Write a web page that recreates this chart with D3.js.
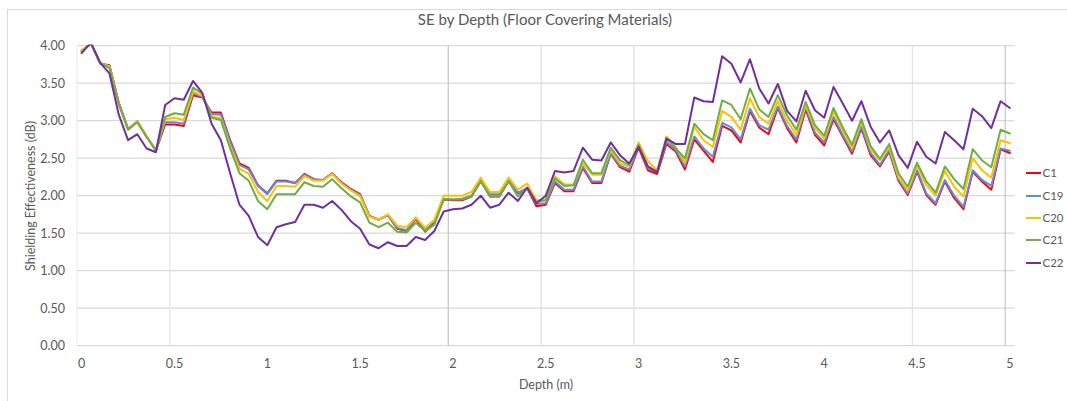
<!DOCTYPE html>
<html>
<head>
<meta charset="utf-8">
<script src="https://cdn.jsdelivr.net/npm/d3@7"></script>
<style>
  body { margin: 0; background: #fff; }
  svg { display: block; }
  text { font-family: Lato, "Open Sans", sans-serif; fill: #595959; }
</style>
</head>
<body>
<svg id="chart" width="1067" height="401"></svg>
<script>
// Depth categories (m), 5 cm steps
const depth = [
  0, 0.05, 0.1, 0.15, 0.2, 0.25, 0.3, 0.35, 0.4, 0.45,
  0.5, 0.55, 0.6, 0.65, 0.7, 0.75, 0.8, 0.85, 0.9, 0.95,
  1, 1.05, 1.1, 1.15, 1.2, 1.25, 1.3, 1.35, 1.4, 1.45,
  1.5, 1.55, 1.6, 1.65, 1.7, 1.75, 1.8, 1.85, 1.9, 1.95,
  2, 2.05, 2.1, 2.15, 2.2, 2.25, 2.3, 2.35, 2.4, 2.45,
  2.5, 2.55, 2.6, 2.65, 2.7, 2.75, 2.8, 2.85, 2.9, 2.95,
  3, 3.05, 3.1, 3.15, 3.2, 3.25, 3.3, 3.35, 3.4, 3.45,
  3.5, 3.55, 3.6, 3.65, 3.7, 3.75, 3.8, 3.85, 3.9, 3.95,
  4, 4.05, 4.1, 4.15, 4.2, 4.25, 4.3, 4.35, 4.4, 4.45,
  4.5, 4.55, 4.6, 4.65, 4.7, 4.75, 4.8, 4.85, 4.9, 4.95,
  5
];

// Shielding effectiveness (dB) per floor covering material
const c1 = [
  3.93, 4.03, 3.76, 3.74, 3.24, 2.89, 2.99, 2.79, 2.60, 2.95,
  2.95, 2.93, 3.34, 3.31, 3.11, 3.11, 2.74, 2.43, 2.37, 2.14,
  2.03, 2.20, 2.20, 2.17, 2.29, 2.22, 2.21, 2.30, 2.18, 2.09,
  2.02, 1.73, 1.68, 1.74, 1.56, 1.53, 1.69, 1.52, 1.65, 1.95,
  1.94, 1.94, 1.99, 2.20, 1.99, 1.99, 2.20, 2.03, 2.10, 1.86,
  1.88, 2.17, 2.06, 2.06, 2.37, 2.17, 2.17, 2.56, 2.38, 2.32,
  2.64, 2.34, 2.29, 2.69, 2.59, 2.35, 2.75, 2.60, 2.45, 2.93,
  2.87, 2.71, 3.13, 2.91, 2.82, 3.17, 2.90, 2.71, 3.15, 2.81,
  2.67, 3.02, 2.79, 2.56, 2.90, 2.54, 2.39, 2.59, 2.20, 2.01,
  2.32, 2.01, 1.88, 2.19, 1.97, 1.82, 2.32, 2.19, 2.08, 2.62,
  2.57
];
const c19 = [
  3.93, 4.03, 3.77, 3.73, 3.23, 2.89, 2.99, 2.79, 2.60, 2.98,
  2.98, 2.96, 3.37, 3.32, 3.09, 3.08, 2.72, 2.41, 2.35, 2.13,
  2.02, 2.19, 2.19, 2.17, 2.28, 2.21, 2.21, 2.30, 2.17, 2.08,
  2.01, 1.73, 1.68, 1.74, 1.57, 1.54, 1.70, 1.55, 1.66, 1.96,
  1.95, 1.96, 2.00, 2.20, 2.02, 2.02, 2.20, 2.04, 2.10, 1.89,
  1.90, 2.19, 2.08, 2.08, 2.39, 2.19, 2.19, 2.57, 2.40, 2.35,
  2.66, 2.37, 2.31, 2.72, 2.61, 2.39, 2.79, 2.63, 2.52, 2.97,
  2.91, 2.75, 3.16, 2.94, 2.88, 3.19, 2.93, 2.75, 3.18, 2.84,
  2.71, 3.05, 2.81, 2.59, 2.92, 2.57, 2.41, 2.61, 2.22, 2.03,
  2.34, 2.03, 1.90, 2.21, 2.00, 1.85, 2.34, 2.21, 2.13, 2.63,
  2.60
];
const c20 = [
  3.94, 4.03, 3.77, 3.72, 3.22, 2.88, 2.99, 2.79, 2.61, 3.02,
  3.04, 3.01, 3.39, 3.33, 3.06, 3.03, 2.66, 2.36, 2.29, 2.05,
  1.93, 2.13, 2.13, 2.12, 2.26, 2.20, 2.20, 2.29, 2.16, 2.07,
  1.99, 1.72, 1.68, 1.75, 1.60, 1.58, 1.71, 1.57, 1.68, 2.00,
  2.00, 2.00, 2.05, 2.24, 2.05, 2.05, 2.24, 2.08, 2.16, 1.94,
  1.95, 2.26, 2.15, 2.15, 2.43, 2.28, 2.28, 2.61, 2.43, 2.39,
  2.71, 2.46, 2.34, 2.79, 2.65, 2.44, 2.92, 2.74, 2.65, 3.13,
  3.05, 2.88, 3.30, 3.05, 2.96, 3.26, 3.00, 2.81, 3.21, 2.90,
  2.76, 3.12, 2.87, 2.63, 2.99, 2.62, 2.47, 2.65, 2.25, 2.07,
  2.40, 2.14, 2.00, 2.33, 2.12, 1.99, 2.50, 2.34, 2.24, 2.74,
  2.70
];
const c21 = [
  3.92, 4.03, 3.77, 3.70, 3.22, 2.88, 2.98, 2.78, 2.61, 3.05,
  3.10, 3.08, 3.44, 3.36, 3.04, 3.01, 2.63, 2.30, 2.20, 1.93,
  1.82, 2.02, 2.02, 2.02, 2.18, 2.13, 2.12, 2.22, 2.10, 1.99,
  1.91, 1.64, 1.58, 1.64, 1.52, 1.51, 1.64, 1.53, 1.61, 1.95,
  1.95, 1.95, 1.99, 2.19, 1.99, 1.99, 2.19, 1.99, 2.10, 1.92,
  1.94, 2.23, 2.13, 2.14, 2.48, 2.30, 2.30, 2.64, 2.47, 2.41,
  2.68, 2.39, 2.32, 2.77, 2.63, 2.50, 2.96, 2.82, 2.74, 3.27,
  3.21, 3.02, 3.43, 3.15, 3.05, 3.34, 3.07, 2.88, 3.25, 2.94,
  2.80, 3.17, 2.91, 2.68, 3.02, 2.66, 2.49, 2.69, 2.30, 2.12,
  2.44, 2.19, 2.04, 2.39, 2.22, 2.09, 2.62, 2.47, 2.38, 2.88,
  2.83
];
const c22 = [
  3.90, 4.04, 3.77, 3.63, 3.08, 2.74, 2.82, 2.63, 2.58, 3.21,
  3.30, 3.28, 3.53, 3.37, 2.96, 2.74, 2.30, 1.88, 1.73, 1.45,
  1.34, 1.58, 1.62, 1.65, 1.88, 1.88, 1.84, 1.93, 1.81, 1.66,
  1.56, 1.35, 1.30, 1.38, 1.33, 1.33, 1.45, 1.41, 1.53, 1.79,
  1.82, 1.83, 1.88, 2.00, 1.84, 1.88, 2.04, 1.93, 2.11, 1.90,
  2.00, 2.33, 2.31, 2.33, 2.64, 2.48, 2.47, 2.71, 2.54, 2.43,
  2.65, 2.39, 2.31, 2.76, 2.69, 2.69, 3.31, 3.26, 3.25, 3.86,
  3.76, 3.51, 3.82, 3.43, 3.23, 3.49, 3.13, 2.99, 3.40, 3.14,
  3.04, 3.45, 3.23, 3.00, 3.26, 2.92, 2.71, 2.87, 2.54, 2.37,
  2.72, 2.52, 2.43, 2.85, 2.74, 2.62, 3.16, 3.06, 2.90, 3.26,
  3.17
];

const seriesNames = ["C1", "C19", "C20", "C21", "C22"];
const seriesValues = [c1, c19, c20, c21, c22];
const seriesColors = ["#FF0000", "#5B8FDB", "#FFC000", "#70AD47", "#7030A0"];

// Axis ticks
const xTickValues = [0, 0.5, 1, 1.5, 2, 2.5, 3, 3.5, 4, 4.5, 5];
const xTickLabels = ["0", "0.5", "1", "1.5", "2", "2.5", "3", "3.5", "4", "4.5", "5"];
const yTickValues = [0, 0.5, 1, 1.5, 2, 2.5, 3, 3.5, 4];
// Vertical grid lines drawn at category boundaries, with their stroke colours
const vGridDepths = [0, 0.5, 2, 2.5, 3, 4.5, 5];
const vGridColors = ["#ececec", "#e2e2e2", "#c6c6c6", "#dedede", "#e0e0e0", "#e2e2e2", "#c6c6c6"];

const svg = d3.select("#chart");
const plot = { left: 77, right: 1014.5, top: 45.7, bottom: 345.7 };

// Outer chart border
svg.append("rect")
  .attr("x", 7.5).attr("y", 9.5)
  .attr("width", 1080).attr("height", 420)
  .attr("fill", "none").attr("stroke", "#d9d9d9").attr("stroke-width", 1);

const x = d3.scaleBand().domain(depth).range([plot.left, plot.right]).padding(0);
const xc = d => x(d) + x.bandwidth() / 2;
const y = d3.scaleLinear().domain([0, 4]).range([plot.bottom, plot.top]);

// Horizontal grid
svg.append("g").selectAll("line").data(yTickValues).join("line")
  .attr("x1", plot.left).attr("x2", plot.right)
  .attr("y1", d => y(d)).attr("y2", d => y(d))
  .attr("stroke", "#d9d9d9").attr("stroke-width", 1.2);

// Vertical grid
svg.append("g").selectAll("line").data(vGridDepths).join("line")
  .attr("x1", d => x(d)).attr("x2", d => x(d))
  .attr("y1", plot.top).attr("y2", plot.bottom)
  .attr("stroke", (d, i) => vGridColors[i]).attr("stroke-width", 1.2);

// X axis
const xAxis = d3.axisBottom(x)
  .tickValues(xTickValues)
  .tickFormat((d, i) => xTickLabels[i])
  .tickSize(0).tickPadding(13);
const gx = svg.append("g").attr("transform", `translate(0,${plot.bottom})`).call(xAxis);
gx.select(".domain").remove();
gx.selectAll("text").attr("font-size", 12.5).style("font-family", "Lato, sans-serif").attr("fill", "#595959");

// Y axis
const yAxis = d3.axisLeft(y)
  .tickValues(yTickValues)
  .tickFormat(d3.format(".2f"))
  .tickSize(0).tickPadding(12);
const gy = svg.append("g").attr("transform", `translate(${plot.left},0)`).call(yAxis);
gy.select(".domain").remove();
gy.selectAll("text").attr("font-size", 12.5).style("font-family", "Lato, sans-serif").attr("fill", "#595959");

// Series lines
svg.append("clipPath").attr("id", "plot-clip")
  .append("rect")
  .attr("x", plot.left).attr("y", plot.top - 1)
  .attr("width", plot.right - plot.left).attr("height", plot.bottom - plot.top + 1);

const line = d3.line().x((d, i) => xc(depth[i])).y(d => y(d));
svg.append("g").attr("clip-path", "url(#plot-clip)")
  .selectAll("path").data(seriesValues).join("path")
  .attr("d", d => line(d))
  .attr("fill", "none")
  .attr("stroke", (d, i) => seriesColors[i])
  .attr("stroke-width", 2)
  .attr("stroke-linejoin", "round")
  .attr("stroke-linecap", "round");

// Title
svg.append("text")
  .attr("x", 545).attr("y", 25)
  .attr("text-anchor", "middle")
  .attr("font-size", 15)
  .text("SE by Depth (Floor Covering Materials)");

// Axis titles
svg.append("text")
  .attr("x", 546).attr("y", 389)
  .attr("text-anchor", "middle")
  .attr("font-size", 12.5)
  .text("Depth (m)");

svg.append("text")
  .attr("transform", "translate(35,196) rotate(-90)")
  .attr("text-anchor", "middle")
  .attr("font-size", 12.5)
  .text("Shielding Effectiveness (dB)");

// Legend
const legendY = [173, 196, 218, 240, 263];
const legend = svg.append("g").selectAll("g").data(seriesNames).join("g")
  .attr("transform", (d, i) => `translate(1026,${legendY[i]})`);
legend.append("line")
  .attr("x1", 0).attr("x2", 15).attr("y1", 0).attr("y2", 0)
  .attr("stroke", (d, i) => seriesColors[i]).attr("stroke-width", 2);
legend.append("text")
  .attr("x", 16.5).attr("y", 0).attr("dy", "0.35em")
  .attr("font-size", 11.5)
  .text(d => d);
</script>
</body>
</html>
